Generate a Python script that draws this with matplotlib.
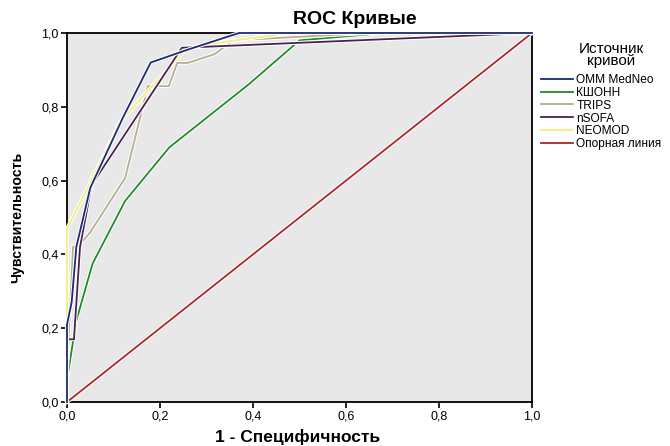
import matplotlib
matplotlib.use("Agg")
import matplotlib.pyplot as plt
import matplotlib.patheffects as pe
from matplotlib.lines import Line2D
from matplotlib.ticker import FuncFormatter

plt.rcParams['font.family'] = ['Liberation Sans', 'DejaVu Sans']

# Data
omm_x = [0.0, 0.0, 0.01, 0.02, 0.05, 0.12, 0.18, 0.26, 0.37, 1.0]
omm_y = [0.0, 0.21, 0.27, 0.42, 0.58, 0.77, 0.92, 0.955, 1.0, 1.0]

kshonn_x = [0.0, 0.0, 0.02, 0.055, 0.125, 0.22, 0.39, 0.5, 0.68, 1.0]
kshonn_y = [0.0, 0.06, 0.22, 0.375, 0.545, 0.69, 0.86, 0.98, 1.0, 1.0]

trips_x = [0.0, 0.0, 0.013, 0.03, 0.05, 0.125, 0.174, 0.219, 0.237, 0.26, 0.318, 0.357, 0.65, 1.0]
trips_y = [0.0, 0.08, 0.42, 0.43, 0.46, 0.607, 0.856, 0.856, 0.919, 0.919, 0.943, 0.98, 1.0, 1.0]

nsofa_x = [0.0, 0.0, 0.015, 0.028, 0.053, 0.247, 1.0]
nsofa_y = [0.0, 0.17, 0.17, 0.42, 0.588, 0.96, 1.0]

neomod_x = [0.0, 0.0, 0.039, 0.114, 0.258, 0.35, 0.48, 1.0]
neomod_y = [0.03, 0.47, 0.566, 0.759, 0.96, 0.978, 1.0, 1.0]

ref_x = [0.0, 1.0]
ref_y = [0.0, 1.0]

labels = ['OMM MedNeo', 'КШОНН', 'TRIPS', 'nSOFA', 'NEOMOD', 'Опорная линия']
colors = ['#1c2a6e', '#1f8a26', '#b5ad8e', '#4a2150', '#f3ee7a', '#a8262a']
xticks = [0.0, 0.2, 0.4, 0.6, 0.8, 1.0]
legend_title = 'Источник\nкривой'

fig = plt.figure(figsize=(6.7, 4.46), dpi=100)
ax = fig.add_axes([67/670, 1 - 402/446, (532-67)/670, (402-33)/446])
ax.set_facecolor('#e8e8e8')

series = [(omm_x, omm_y), (kshonn_x, kshonn_y), (trips_x, trips_y),
          (nsofa_x, nsofa_y), (neomod_x, neomod_y), (ref_x, ref_y)]
order = [5, 1, 2, 4, 3, 0]
for i in order:
    xs, ys = series[i]
    ax.plot(xs, ys, color=colors[i], lw=1.3, solid_joinstyle='miter',
            path_effects=[pe.Stroke(linewidth=2.8, foreground='white'), pe.Normal()],
            clip_on=False, zorder=3)

ax.set_xlim(0, 1)
ax.set_ylim(0, 1)
ax.set_xticks(xticks)
ax.set_yticks(xticks)
fmt = FuncFormatter(lambda v, p: f"{v:.1f}".replace('.', ','))
ax.xaxis.set_major_formatter(fmt)
ax.yaxis.set_major_formatter(fmt)
ax.tick_params(direction='out', length=4, width=1.2, labelsize=9, pad=2)
for s in ax.spines.values():
    s.set_linewidth(1.3)
    s.set_color('black')

fig.text(298/670, 1 - 437/446, '1 - Специфичность', ha='center', va='center',
         fontsize=12.5, fontweight='bold')
fig.text(17/670, 1 - 217/446, 'Чувствительность', ha='center', va='center',
         rotation=90, fontsize=10.2, fontweight='bold')
fig.text(355/670, 1 - 19.5/446, 'ROC Кривые', ha='center', va='center',
         fontsize=14, fontweight='bold')

fig.text(611/670, 1 - 55/446, legend_title, ha='center', va='center',
         multialignment='center', fontsize=11, linespacing=0.85)

handles = [Line2D([0], [0], color=c, lw=1.3) for c in colors]
leg = fig.legend(handles, labels, loc='upper left',
                 bbox_to_anchor=(541/670, 1 - 74/446), frameon=False,
                 fontsize=8.6, handlelength=2.7, handletextpad=0.25,
                 labelspacing=0.07, borderaxespad=0, borderpad=0)

fig.savefig('out.png', dpi=100)
